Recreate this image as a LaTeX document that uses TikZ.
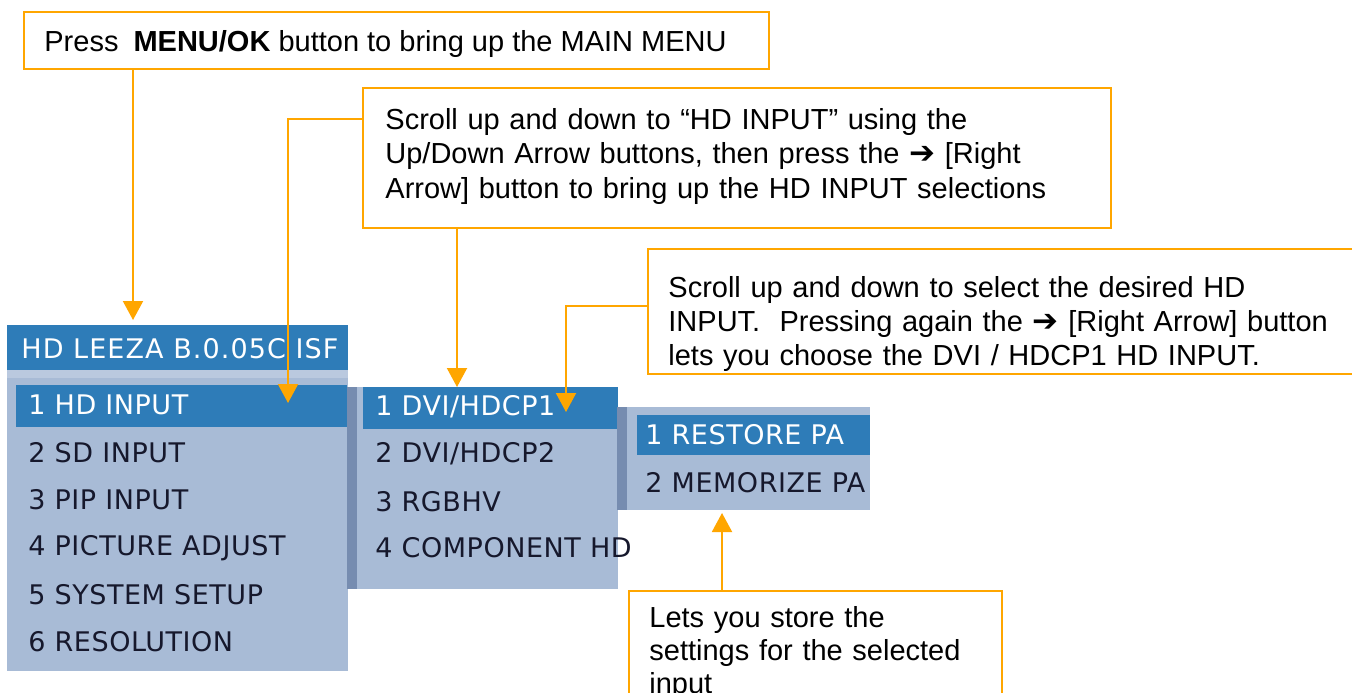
\documentclass[tikz,border=0pt]{standalone}
\usepackage{fontspec}
\setmainfont{Liberation Sans}
\newfontfamily\osdfam[LetterSpace=2]{DejaVu Sans}
\newfontfamily\arrowfam{DejaVu Sans}
\usetikzlibrary{arrows.meta,calc}
\newdimen\upx \upx=0.5pt
\definecolor{callorange}{RGB}{255,166,0}
\definecolor{osdblue}{RGB}{46,124,184}
\definecolor{osdbody}{RGB}{168,187,214}
\definecolor{osdband}{RGB}{186,201,223}
\definecolor{osdedge}{RGB}{118,140,176}
\definecolor{osdtext}{RGB}{22,24,44}
\newcommand\rarr{{\arrowfam\fontsize{15.5pt}{17pt}\selectfont ➔}}
\newcommand\callfont{\fontsize{14.5pt}{17.25pt}\selectfont}
\newcommand\osdfont{\osdfam\fontsize{13.5pt}{16pt}\selectfont}
\begin{document}
\begin{tikzpicture}[x=0.5pt,y=-0.5pt,
  callout/.style={draw=callorange, line width=1pt, fill=white, inner sep=0, anchor=north west},
  calltext/.style={inner sep=0, anchor=base west, align=left, font=\callfont, text=black},
  conn/.style={draw=callorange, line width=1pt, -{Triangle[width=10pt,length=9.5pt,fill=callorange]}},
  panel/.style={inner sep=0, outer sep=0, anchor=north west, draw=none},
  osdrow/.style={inner sep=0, anchor=west, font=\osdfont, text=osdtext},
  osdsel/.style={osdrow, text=white}]
\useasboundingbox (0,0) rectangle (1352,692);
\clip (0,0) rectangle (1352,692);
\fill[white] (0,0) rectangle (1352,692);

% main menu
\node[panel, fill=osdblue, minimum width=341\upx, minimum height=45\upx] (hdr) at (7,325) {};
\node[osdsel, font=\osdfont\addfontfeature{LetterSpace=4}] (htext) at (21,349) {HD LEEZA B.0.05C ISF};
\node[panel, fill=osdbody, minimum width=341\upx, minimum height=301\upx] (mbody) at (7,370) {};
\fill[osdband] (mbody.north west) rectangle ($(mbody.north east)+(0,8)$);
\node[panel, fill=osdblue, minimum width=331\upx, minimum height=42\upx] (msel) at (16,385) {};
\node[osdsel] (m1) at (28,405) {1 HD INPUT};
\node[osdrow] (m2) at (28,453) {2 SD INPUT};
\node[osdrow] (m3) at (28,500) {3 PIP INPUT};
\node[osdrow] (m4) at (28,548) {4 PICTURE ADJUST};
\node[osdrow] (m5) at (28,595) {5 SYSTEM SETUP};
\node[osdrow] (m6) at (28,642) {6 RESOLUTION};

% HD input submenu
\node[panel, fill=osdbody, minimum width=271\upx, minimum height=202\upx] (sub1) at (347,387) {};
\fill[osdedge] (sub1.north west) rectangle ($(sub1.south west)+(10,0)$);
\node[panel, fill=osdblue, minimum width=255\upx, minimum height=42\upx] (ssel) at (363,387) {};
\node[osdsel] (s1) at (375,407) {1 DVI/HDCP1};
\node[osdrow] (s2) at (375,454) {2 DVI/HDCP2};
\node[osdrow] (s3) at (375,502) {3 RGBHV};
\node[osdrow] (s4) at (375,548) {4 COMPONENT HD};

% memory submenu
\node[panel, fill=osdbody, minimum width=253\upx, minimum height=103\upx] (sub2) at (617,407) {};
\fill[osdedge] (sub2.north west) rectangle ($(sub2.south west)+(10,0)$);
\node[panel, fill=osdblue, minimum width=233\upx, minimum height=40\upx] (rsel) at (637,415) {};
\node[osdsel] (r1) at (645,435) {1 RESTORE PA};
\node[osdrow] (r2) at (645,483) {2 MEMORIZE PA};

% callouts
\node[callout, minimum width=745\upx, minimum height=57\upx] (b1) at (23,11) {};
\node[calltext] (t1) at (44,51) {Press\hspace{7.5pt}\textbf{MENU/OK} button to bring up the MAIN MENU};

\node[callout, minimum width=748\upx, minimum height=140\upx] (b2) at (362,87) {};
\node[calltext, text width=720\upx] (t2) at (385,129) {Scroll up and down to “HD INPUT” using the\\
Up/Down Arrow buttons, then press the \rarr{} [Right\\
Arrow] button to bring up the HD INPUT selections};

\node[callout, minimum width=760\upx, minimum height=125\upx] (b3) at (647,248) {};
\node[calltext, text width=700\upx, font=\fontsize{14.5pt}{17pt}\selectfont] (t3) at (668,297) {Scroll up and down to select the desired HD\\
INPUT.\ \ Pressing again the \rarr{} [Right Arrow] button\\
lets you choose the DVI / HDCP1 HD INPUT.};

\node[callout, minimum width=373\upx, minimum height=150\upx] (b4) at (628,590) {};
\node[calltext, text width=340\upx, font=\fontsize{14.5pt}{16.5pt}\selectfont] (t4) at (649,627) {Lets you store the\\
settings for the selected\\
input};

% connectors
\coordinate (a1) at (133,320);
\coordinate (a2) at (288,403);
\coordinate (a3) at (457,387);
\coordinate (a4) at (566,412);
\coordinate (a5) at (722,513);
\draw[conn] (b1.south -| a1) -- (a1);
\draw[conn] ($(b2.north west)+(0,32)$) -| (a2);
\draw[conn] (b2.south -| a3) -- (a3);
\draw[conn] ($(b3.north west)+(0,58)$) -| (a4);
\draw[conn] (b4.north -| a5) -- (a5);
\end{tikzpicture}
\end{document}
